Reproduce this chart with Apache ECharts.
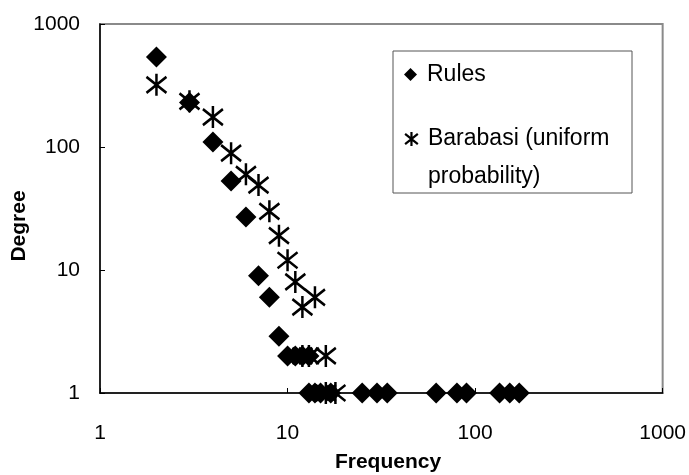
<!DOCTYPE html>
<html>
<head>
<meta charset="utf-8">
<script src="https://cdn.jsdelivr.net/npm/echarts@6/dist/echarts.min.js"></script>
<style>
html,body{margin:0;padding:0;background:#fff;}
#chart{width:689px;height:475px;}
</style>
</head>
<body>
<div id="chart"></div>
<script>
// Data
var rulesFreq   = [2, 3, 4, 5, 6, 7, 8, 9, 10, 11, 12, 13, 13, 14, 15, 17, 25, 30, 34, 62, 80, 90, 135, 153, 172];
var rulesDegree = [540, 230, 110, 53, 27, 9, 6, 2.9, 2, 2, 2, 2, 1, 1, 1, 1, 1, 1, 1, 1, 1, 1, 1, 1, 1];
var baraFreq    = [2, 3, 4, 5, 6, 7, 8, 9, 10, 11, 12, 14, 12, 13, 16, 16, 18];
var baraDegree  = [320, 235, 175, 89, 60, 49, 30, 19, 12, 8, 5, 6, 2, 2, 2, 1, 1];
var seriesNames = ['Rules', 'Barabasi (uniform probability)'];
var legendLines = ['Barabasi (uniform', 'probability)'];
var xTickLabels = ['1', '10', '100', '1000'];
var yTickLabels = ['1', '10', '100', '1000'];
var xTitle = 'Frequency';
var yTitle = 'Degree';

function pairs(xs, ys) { return xs.map(function (x, i) { return [x, ys[i]]; }); }
function tickLabel(arr) {
  return function (v) { var i = Math.round(Math.log10(v)); return arr[i] !== undefined ? arr[i] : ''; };
}
var starPath = 'path://M10,0L10,22M0,3L20,19M0,19L20,3';
var FONT = 'Arial, "Liberation Sans", sans-serif';

var chart = echarts.init(document.getElementById('chart'), null, {renderer: 'canvas'});
chart.setOption({
  animation: false,
  backgroundColor: '#fff',
  grid: {left: 100, right: 26, top: 24, bottom: 82, show: true, borderColor: '#8a8a8a', borderWidth: 2, backgroundColor: 'transparent'},
  xAxis: {
    type: 'log', logBase: 10, min: 1, max: 1000,
    axisLine: {show: true, lineStyle: {color: '#000', width: 1.5}},
    axisTick: {show: true, inside: true, length: 5, lineStyle: {color: '#000'}},
    minorTick: {show: false},
    splitLine: {show: false},
    axisLabel: {fontSize: 21, color: '#000', fontFamily: FONT, margin: 30, formatter: tickLabel(xTickLabels)}
  },
  yAxis: {
    type: 'log', logBase: 10, min: 1, max: 1000,
    axisLine: {show: true, lineStyle: {color: '#000', width: 1.5}},
    axisTick: {show: true, inside: true, length: 5, lineStyle: {color: '#000'}},
    splitLine: {show: false},
    axisLabel: {fontSize: 21, color: '#000', fontFamily: FONT, margin: 20, formatter: tickLabel(yTickLabels)}
  },
  legend: [
    {
      data: [{name: seriesNames[0], icon: 'diamond', itemStyle: {color: '#000', borderWidth: 0}}],
      left: 404, top: 63, padding: 0, itemWidth: 13, itemHeight: 13,
      textStyle: {fontSize: 23, color: '#000', fontFamily: FONT, lineHeight: 23, padding: [0, 0, 0, 5]}
    },
    {
      data: [{name: seriesNames[1], icon: starPath, itemStyle: {color: 'rgba(0,0,0,0)', borderColor: '#000', borderWidth: 2.2}}],
      left: 404, top: 82, padding: 0, itemWidth: 13, itemHeight: 14,
      formatter: function () { return '\n' + legendLines.join('\n'); },
      textStyle: {fontSize: 23, color: '#000', fontFamily: FONT, lineHeight: 38, padding: [0, 0, 0, 5]}
    }
  ],
  graphic: [
    {type: 'rect', z: 1, shape: {x: 393, y: 51, width: 239, height: 142}, style: {fill: '#fff', stroke: '#555', lineWidth: 1}},
    {type: 'text', x: 388, y: 462, style: {text: xTitle, font: 'bold 21px ' + FONT, fill: '#000', textAlign: 'center', textVerticalAlign: 'middle'}},
    {type: 'text', x: 19, y: 226, rotation: Math.PI / 2, style: {text: yTitle, font: 'bold 21px ' + FONT, fill: '#000', textAlign: 'center', textVerticalAlign: 'middle'}}
  ],
  series: [
    {
      name: seriesNames[0], type: 'scatter', symbol: 'diamond', symbolSize: 21,
      itemStyle: {color: '#000', opacity: 1},
      data: pairs(rulesFreq, rulesDegree), z: 3
    },
    {
      name: seriesNames[1], type: 'scatter', symbol: starPath, symbolSize: [20, 22],
      itemStyle: {color: 'rgba(0,0,0,0)', borderColor: '#000', borderWidth: 2.6, opacity: 1},
      data: pairs(baraFreq, baraDegree), z: 4
    }
  ]
});
</script>
</body>
</html>
